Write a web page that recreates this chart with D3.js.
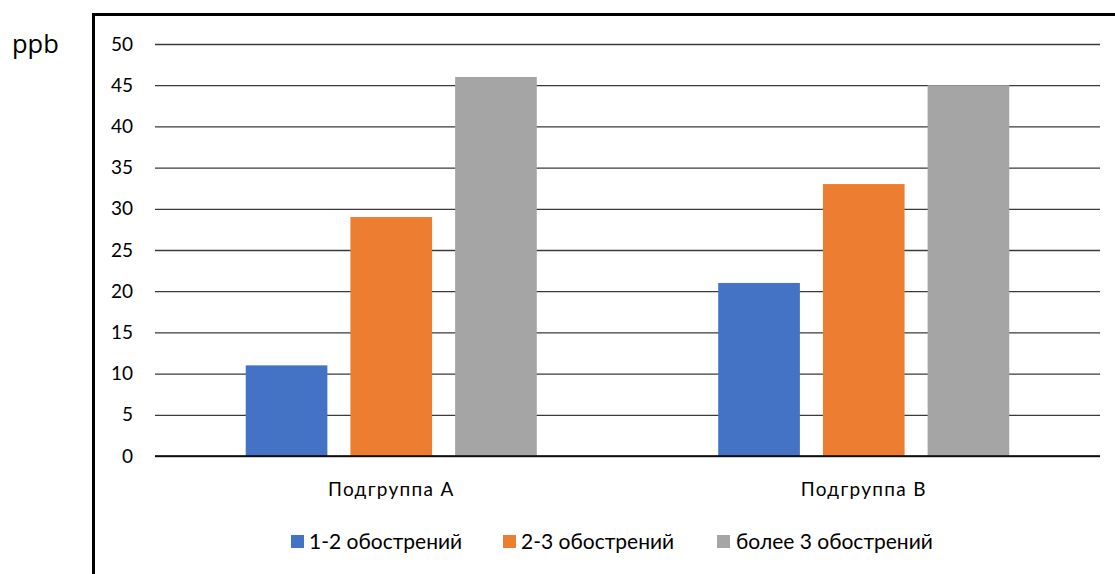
<!DOCTYPE html>
<html>
<head>
<meta charset="utf-8">
<script src="https://cdn.jsdelivr.net/npm/d3@7"></script>
<style>
  html, body { margin: 0; padding: 0; background: #fff; }
  svg { display: block; }
</style>
</head>
<body>
<svg id="chart" width="1115" height="574"></svg>
<script>
// Data
const categories = ["Подгруппа А", "Подгруппа В"];
const seriesNames = ["1-2 обострений", "2-3 обострений", "более 3 обострений"];
const seriesColors = ["#4472C4", "#ED7D31", "#A5A5A5"];
const values = [
  [11, 21],   // 1-2 обострений
  [29, 33],   // 2-3 обострений
  [46, 45]    // более 3 обострений
];
const yTicks = [0, 5, 10, 15, 20, 25, 30, 35, 40, 45, 50];
const unitLabel = "ppb";

const svg = d3.select("#chart");
const tickFont = "Lato, 'Open Sans', sans-serif";

// Frame around the chart area (right and bottom edges run off the page)
svg.append("rect")
  .attr("x", 93.5).attr("y", 14.5)
  .attr("width", 1040).attr("height", 600)
  .attr("fill", "none").attr("stroke", "#000").attr("stroke-width", 3);

svg.append("text")
  .attr("x", 12).attr("y", 53)
  .attr("font-family", "'Open Sans', sans-serif")
  .attr("font-size", 25.5)
  .attr("fill", "#000")
  .text(unitLabel);

const plot = { left: 155, right: 1100, top: 44, bottom: 456 };

const y = d3.scaleLinear().domain([0, 50]).range([plot.bottom, plot.top]);
const x0 = d3.scaleBand().domain(categories).range([plot.left, plot.right]).paddingInner(0.384).paddingOuter(0.192);
const x1 = d3.scaleBand().domain(seriesNames).range([0, x0.bandwidth()]).paddingInner(0.22);

// Horizontal gridlines with labels
const yAxis = d3.axisLeft(y).tickValues(yTicks).tickSize(-(plot.right - plot.left)).tickPadding(22);
const gy = svg.append("g").attr("transform", `translate(${plot.left},0)`).call(yAxis);
gy.select(".domain").remove();
gy.selectAll(".tick line").attr("stroke", "#3a3a3a").attr("stroke-width", 1.3);
gy.selectAll(".tick text")
  .attr("font-family", tickFont).attr("font-size", 19).attr("fill", "#000");

// Bars
const groups = svg.append("g").selectAll("g")
  .data(categories)
  .join("g")
  .attr("transform", d => `translate(${x0(d)},0)`);

groups.selectAll("rect")
  .data((c, ci) => seriesNames.map((s, si) => ({ s, si, v: values[si][ci] })))
  .join("rect")
  .attr("x", d => x1(d.s))
  .attr("y", d => y(d.v))
  .attr("width", x1.bandwidth())
  .attr("height", d => y(0) - y(d.v))
  .attr("fill", d => seriesColors[d.si]);

// Baseline
svg.append("line")
  .attr("x1", plot.left).attr("x2", plot.right)
  .attr("y1", y(0)).attr("y2", y(0))
  .attr("stroke", "#000").attr("stroke-width", 1.6);

// Category labels
const xAxis = d3.axisBottom(x0).tickSize(0).tickPadding(26.5);
const gx = svg.append("g").attr("transform", `translate(0,${plot.bottom})`).call(xAxis);
gx.select(".domain").remove();
gx.selectAll(".tick text")
  .attr("font-family", tickFont).attr("font-size", 19).attr("fill", "#000")
  .attr("letter-spacing", "1.3px");

// Legend
const legendItems = [
  { x: 291, textX: 309 },
  { x: 503, textX: 521 },
  { x: 717, textX: 736 }
];
const legend = svg.append("g");
seriesNames.forEach((name, i) => {
  legend.append("rect")
    .attr("x", legendItems[i].x).attr("y", 535)
    .attr("width", 13).attr("height", 13)
    .attr("fill", seriesColors[i]);
  legend.append("text")
    .attr("x", legendItems[i].textX).attr("y", 549)
    .attr("font-family", tickFont).attr("font-size", 21).attr("fill", "#000")
    .text(name);
});
</script>
</body>
</html>
